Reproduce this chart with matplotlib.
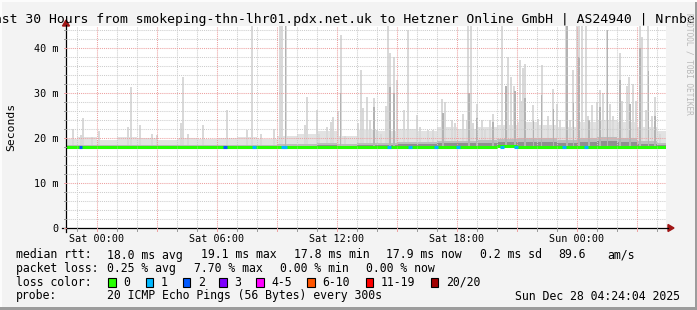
import matplotlib
matplotlib.use('Agg')
import matplotlib.pyplot as plt
from matplotlib.patches import Rectangle, Polygon
from matplotlib.lines import Line2D
from matplotlib.transforms import Affine2D

# ---------------- data (hours relative to Sat 00:00) ----------------
spike_t = [-1.2, -0.82, -0.7, -0.25, 0.1, 1.55, 1.68, 2.15, 2.73, 2.98, 4.2, 4.32, 4.55, 5.3, 6.5,
           7.5, 7.73, 8.2, 8.85, 9.15, 9.25, 9.43, 10.4, 10.48, 10.98, 11.1, 11.48, 11.68, 11.78,
           12.07, 12.18, 12.4, 13.05, 13.18, 13.32, 13.52, 13.65, 13.85, 14.0, 14.2, 14.45, 14.57,
           14.65, 14.85, 14.98, 15.35, 15.53, 15.98, 16.15, 16.55, 16.8, 17.27, 17.4, 17.73, 17.9,
           18.32, 18.5, 18.57, 18.68, 18.8, 18.98, 19.25, 19.4, 19.65, 19.82, 20.23, 20.3, 20.57,
           20.7, 20.87, 21.15, 21.2, 21.32, 21.4, 21.82, 22.05, 22.23, 22.55, 22.82, 22.98, 23.15,
           23.45, 23.65, 23.82, 24.02, 24.1, 24.23, 24.45, 24.57, 24.73, 24.98, 25.15, 25.28, 25.52,
           25.65, 25.82, 26.15, 26.23, 26.48, 26.62, 26.82, 26.95, 27.15, 27.27, 27.45, 27.57,
           27.73, 27.9, 28.15]
spike_top = [22.1, 20.7, 24.4, 20.3, 21.6, 22.5, 31.4, 22.9, 21.0, 20.6, 23.3, 33.6, 20.9, 22.9, 26.2,
             21.8, 45, 20.9, 22.1, 45, 45, 45, 23.0, 29.2, 26.2, 21.0, 22.5, 23.6, 24.7,
             25.9, 42.9, 20.5, 23.3, 35.1, 26.6, 29.2, 24.1, 28.8, 21.8, 21.0, 27.1, 45,
             38.8, 38.1, 32.9, 26.2, 44.0, 25.1, 22.5, 21.8, 21.8, 28.6, 28.1, 24.1, 23.3,
             25.4, 24.1, 45, 45, 23.3, 27.6, 24.1, 21.8, 24.1, 25.4, 45, 22.5, 38.1,
             33.6, 31.5, 37.3, 28.3, 35.5, 36.5, 27.3, 24.3, 36.2, 25.0, 31.0, 27.6, 24.1,
             45, 24.1, 35.1, 45, 45, 45, 45, 25.0, 27.3, 28.1, 30.7, 30.0, 44.0,
             27.6, 25.0, 38.8, 28.3, 31.5, 33.6, 31.9, 28.3, 45, 42.5, 26.2, 45,
             24.9, 29.2, 21.0]

dark_t = [9.43, 12.18, 13.85, 14.65, 14.85, 17.3, 18.6, 19.0, 19.8, 20.45, 20.9, 21.4, 21.82, 22.23,
          22.82, 23.5, 23.82, 24.1, 24.6, 25.15, 25.52, 26.15, 26.65, 27.15, 27.57, 27.9]
dark_top = [45, 30.0, 26.9, 31.4, 30.0, 25.5, 30.0, 24.5, 23.5, 31.5, 30.5, 29.0, 24.0, 29.5,
            26.5, 45, 28.0, 38.0, 24.0, 27.0, 44.0, 33.0, 27.5, 40.0, 35.0, 25.0]

bg_hours = list(range(-2, 29))
bg_light = [19.8, 20.2, 19.6, 20.3, 20.0, 19.6, 20.0, 19.8, 20.0, 20.3, 19.8, 20.5, 20.8, 21.5, 20.5,
            21.8, 21.5, 22.0, 21.5, 22.5, 22.0, 22.5, 23.0, 23.5, 23.0, 22.5, 23.5, 24.0, 23.5, 22.5, 21.5]
bg_dark = [18.4, 18.5, 18.4, 18.5, 18.4, 18.4, 18.4, 18.4, 18.4, 18.5, 18.4, 18.6, 18.7, 18.9, 18.7,
           19.0, 18.9, 19.2, 19.1, 19.4, 19.4, 19.6, 19.8, 20.0, 19.9, 19.6, 20.0, 20.3, 19.9, 19.4, 18.9]
bg_core = [18.2, 18.2, 18.2, 18.2, 18.2, 18.2, 18.2, 18.2, 18.2, 18.2, 18.2, 18.2, 18.3, 18.4, 18.3,
           18.5, 18.4, 18.6, 18.6, 18.8, 18.8, 18.9, 19.1, 19.2, 19.1, 18.9, 19.1, 19.3, 19.0, 18.7, 18.4]
median_h = [17.9, 17.9, 17.9, 18.0, 17.9, 17.9, 17.9, 17.9, 17.9, 17.9, 17.9, 17.9, 17.9, 18.0, 17.9,
            18.0, 18.0, 18.0, 18.1, 18.0, 18.1, 18.1, 18.2, 18.1, 18.1, 18.0, 18.0, 18.0, 17.9, 17.9, 17.9]

loss_t = [-0.82, 6.4, 7.85, 9.3, 9.4, 14.6, 15.65, 16.95, 18.05, 20.25, 20.95, 23.35, 24.45]
loss_n = [2, 2, 1, 1, 1, 1, 1, 1, 1, 1, 1, 1, 1]

loss_labels = ['0', '1', '2', '3', '4-5', '6-10', '11-19', '20/20']
loss_colors = ['#26ff00', '#00b8ff', '#0059ff', '#7e00ff', '#ff00ff', '#ff5500', '#ff0000', '#a10000']

x_tick_hours = [0, 6, 12, 18, 24]
x_tick_labels = ['Sat 00:00', 'Sat 06:00', 'Sat 12:00', 'Sat 18:00', 'Sun 00:00']
y_ticks = [0, 10, 20, 30, 40]
y_tick_labels = ['0', '10 m', '20 m', '30 m', '40 m']

title = 'Last 30 Hours from smokeping-thn-lhr01.pdx.net.uk to Hetzner Online GmbH | AS24940 | Nrnberg'
stats_rtt = ['18.0 ms avg', '19.1 ms max', '17.8 ms min', '17.9 ms now', '0.2 ms sd', '89.6', 'am/s']
stats_loss = ['0.25 % avg', '7.70 % max', '0.00 % min', '0.00 % now']
probe_text = '20 ICMP Echo Pings (56 Bytes) every 300s'
date_text = 'Sun Dec 28 04:24:04 2025'

# ---------------- figure ----------------
W, H = 697, 310
MONO = 'DejaVu Sans Mono'
fig = plt.figure(figsize=(W / 100, H / 100), dpi=100, facecolor='#f3f3f3')
tpx = Affine2D().scale(1, -1).translate(0, H)  # pixel coords from top-left

ax = fig.add_axes([66 / W, 1 - 228 / H, 600 / W, (228 - 25.5) / H])
ax.set_facecolor('white')
ax.set_xlim(-1.55, 28.45)
ax.set_ylim(0, 45)
for s in ax.spines.values():
    s.set_visible(False)

step = 5 / 60.0
# background smoke
ax.bar(bg_hours, [t - m for t, m in zip(bg_light, median_h)], bottom=median_h, width=1.0,
       align='edge', color='#e2e2e2', linewidth=0, zorder=1)
ax.bar(bg_hours, [t - m for t, m in zip(bg_dark, median_h)], bottom=median_h, width=1.0,
       align='edge', color='#bdbdbd', linewidth=0, zorder=1.2)
ax.bar(bg_hours, [t - m for t, m in zip(bg_core, median_h)], bottom=median_h, width=1.0,
       align='edge', color='#8f8f8f', linewidth=0, zorder=1.25)
# spikes
ax.bar(spike_t, [t - 18.0 for t in spike_top], bottom=18.0, width=step * 1.25,
       color='#d9d9d9', linewidth=0, zorder=1.1)
ax.bar(dark_t, [t - 18.0 for t in dark_top], bottom=18.0, width=step * 0.7,
       color='#b3b3b3', linewidth=0, zorder=1.3)

# grid
GRID = '#cdcdcd'
MGRID = '#eda0a0'
dot = (0, (1.0, 1.0))
for h in range(-1, 29):
    if h % 3 != 0:
        ax.axvline(h, color=GRID, lw=0.75, ls=dot, zorder=2)
for h in range(0, 29, 3):
    ax.axvline(h, color=MGRID, lw=0.75, ls=dot, zorder=2.1)
for v in range(2, 46, 2):
    if v % 10 != 0:
        ax.axhline(v, color=GRID, lw=0.75, ls=dot, zorder=2)
for v in range(10, 46, 10):
    ax.axhline(v, color=MGRID, lw=0.75, ls=dot, zorder=2.1)

# median line
ax.hlines(median_h, bg_hours, [h + 1 for h in bg_hours], colors=loss_colors[0], lw=2.2, zorder=3)
for t, n in zip(loss_t, loss_n):
    ax.hlines(18.0, t - 0.09, t + 0.09, colors=loss_colors[n], lw=2.2, zorder=3.1)

# ticks
ax.set_xticks(x_tick_hours)
ax.set_xticklabels(x_tick_labels, fontfamily=MONO, fontsize=7.3)
ax.set_yticks(y_ticks)
ax.set_yticklabels(y_tick_labels, fontfamily=MONO, fontsize=7.3)
ax.tick_params(axis='x', length=0, pad=4)
ax.tick_params(axis='y', length=0, pad=5.5)

# axes lines + arrows (pixel coords)
fig.add_artist(Line2D([62, 668], [228, 228], color='black', lw=0.9, transform=tpx))
fig.add_artist(Line2D([66, 66], [232, 25], color='black', lw=0.9, transform=tpx))
fig.add_artist(Polygon([[668, 224.5], [668, 231.5], [674, 228]], closed=True, color='#a01515', transform=tpx))
fig.add_artist(Polygon([[62.5, 26], [69.5, 26], [66, 20]], closed=True, color='#a01515', transform=tpx))
# small tick marks
for v in range(0, 46, 2):
    py = 228 - v * 4.5
    fig.add_artist(Line2D([63.5, 66], [py, py], color=MGRID if v % 10 == 0 else '#999999', lw=0.7, transform=tpx))
for h in range(-1, 29):
    px = 97 + h * 20
    fig.add_artist(Line2D([px, px], [228, 230.5], color=MGRID if h % 3 == 0 else '#999999', lw=0.7, transform=tpx))

# frame shading
fig.add_artist(Rectangle((0, 307), W, 3, color='#9c9c9c', transform=tpx, lw=0))
fig.add_artist(Rectangle((694.5, 0), 2.5, H, color='#9c9c9c', transform=tpx, lw=0))
fig.add_artist(Rectangle((0, 0), W, 1.5, color='#fcfcfc', transform=tpx, lw=0))
fig.add_artist(Rectangle((0, 0), 1.5, 307, color='#fcfcfc', transform=tpx, lw=0))

# title and labels
fig.text(348.5, 19.5, title, transform=tpx, ha='center', va='center', fontfamily=MONO, fontsize=9.45)
fig.text(11, 127, 'Seconds', transform=tpx, ha='center', va='center', rotation=90,
         fontfamily=MONO, fontsize=8.2)
fig.text(688.5, 13, 'RRDTOOL / TOBI OETIKER', transform=tpx, ha='center', va='top', rotation=-90,
         fontfamily=MONO, fontsize=5.6, color='#b9b9b9')

LF = 8.3
def t(x, y, s, ha='left'):
    fig.text(x, y, s, transform=tpx, ha=ha, va='center', fontfamily=MONO, fontsize=LF)

y1, y2, y3, y4 = 255, 268.5, 282.3, 296
t(16, y1, 'median rtt:')
for x, s in zip([107.3, 200.7, 293.5, 386.5, 480.0, 558.3, 607.3], stats_rtt):
    t(x, y1, s)
t(16, y2, 'packet loss:')
for x, s in zip([107.3, 193.5, 279.5, 366.0], stats_loss):
    t(x, y2, s)
t(16, y3, 'loss color:')
box_x = [108.3, 145.7, 182.7, 219.3, 256.0, 307.3, 365.7, 430.7]
for bx, lab, col in zip(box_x, loss_labels, loss_colors):
    fig.add_artist(Rectangle((bx, y3 - 4.3), 7.5, 8.5, facecolor=col, edgecolor='black', lw=0.8, transform=tpx))
    t(bx + 15, y3, lab)
t(16, y4, 'probe:')
t(107.3, y4, probe_text)
t(680, y4, date_text, ha='right')

fig.savefig('out.png', dpi=100, facecolor=fig.get_facecolor())
